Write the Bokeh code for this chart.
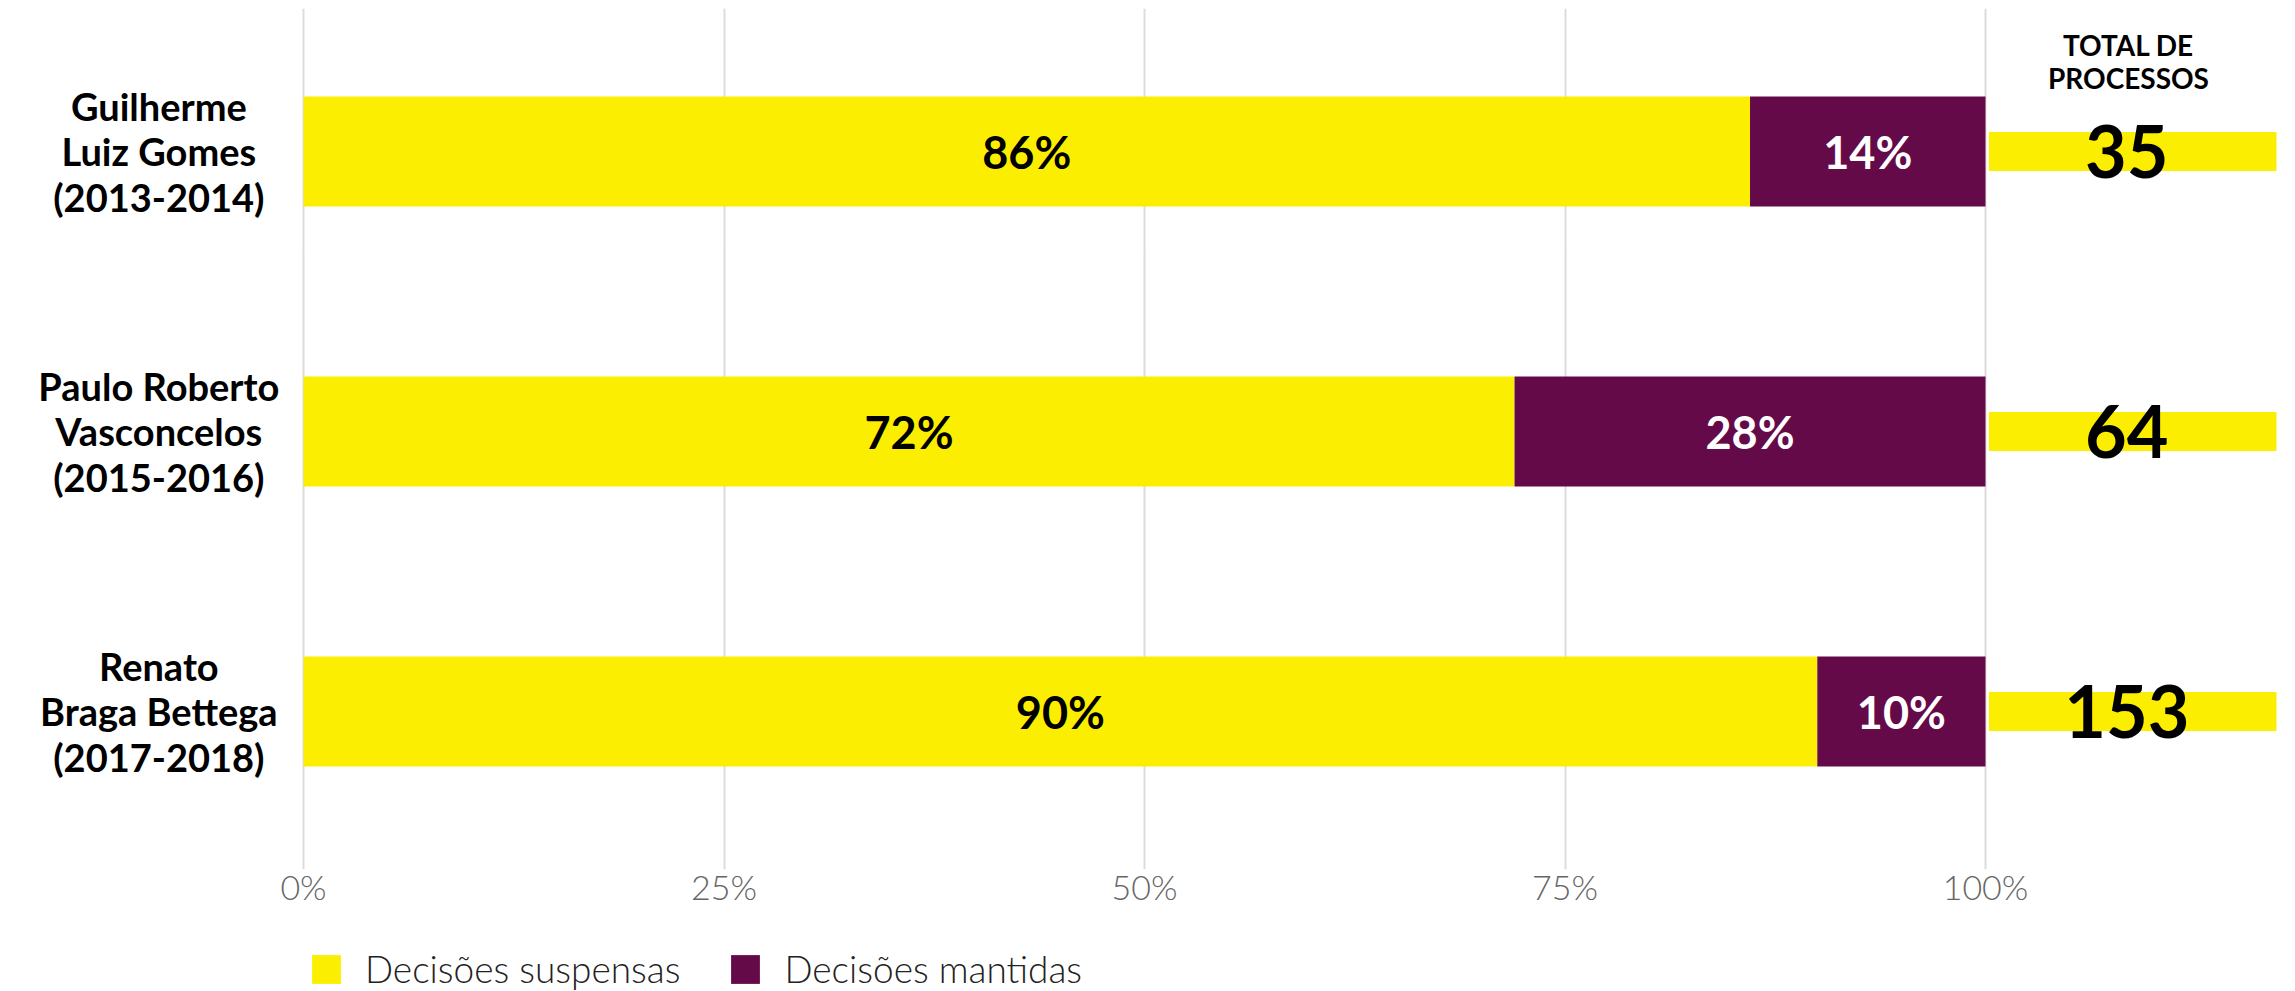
from bokeh.plotting import figure
from bokeh.layouts import column
from bokeh.models import ColumnDataSource, Range1d, FixedTicker, Legend, LegendItem
from bokeh.core.properties import value
from bokeh.embed import file_html
from bokeh.resources import INLINE

# ---- data ----
names = ["Guilherme\nLuiz Gomes\n(2013-2014)",
         "Paulo Roberto\nVasconcelos\n(2015-2016)",
         "Renato\nBraga Bettega\n(2017-2018)"]
suspensas = [86, 72, 90]
mantidas = [14, 28, 10]
totais = [35, 64, 153]
tick_values = [0, 25, 50, 75, 100]
tick_labels = ["0%", "25%", "50%", "75%", "100%"]
legend_labels = ["Decisões suspensas", "Decisões mantidas"]
total_title = "TOTAL DE\nPROCESSOS"

# ---- style ----
YELLOW = "#FCEE00"
PURPLE = "#650A49"
BOLD = "Lato"
LIGHT = "Lato Light"
W = 2295
H_MAIN = 930
H_LEG = 61

n = len(names)
ys = [n - 1 - i for i in range(n)]

src = ColumnDataSource(dict(
    y=ys,
    name=names,
    s=suspensas,
    m_left=suspensas,
    m_right=[a + b for a, b in zip(suspensas, mantidas)],
    s_mid=[v / 2 for v in suspensas],
    m_mid=[a + b / 2 for a, b in zip(suspensas, mantidas)],
    s_lab=[f"{v}%" for v in suspensas],
    m_lab=[f"{v}%" for v in mantidas],
    tot=[str(v) for v in totais],
))

px_per_unit = 16.82
x_start = -303 / px_per_unit
x_end = x_start + W / px_per_unit
y_end = (n - 1) + 143 / 280
y_start = y_end - 861 / 280

p = figure(width=W, height=H_MAIN, output_backend="svg", toolbar_location=None,
           x_range=Range1d(x_start, x_end), y_range=Range1d(y_start, y_end),
           min_border_left=0, min_border_right=0, min_border_top=8, min_border_bottom=61)
p.outline_line_color = None
p.yaxis.visible = False
p.ygrid.visible = False

p.xaxis.ticker = FixedTicker(ticks=tick_values)
p.xaxis.major_label_overrides = {v: l for v, l in zip(tick_values, tick_labels)}
p.xaxis.axis_line_color = None
p.xaxis.major_tick_line_color = None
p.xaxis.minor_tick_line_color = None
p.xaxis.major_label_text_font = LIGHT
p.xaxis.major_label_text_font_size = "34px"
p.xaxis.major_label_text_color = "#666666"
p.xaxis.major_label_standoff = -10
p.xgrid.grid_line_color = "#dcdcdc"
p.xgrid.grid_line_width = 2

p.hbar(y="y", left=0, right="s", height=0.393, source=src, fill_color=YELLOW, line_color=None)
p.hbar(y="y", left="m_left", right="m_right", height=0.393, source=src, fill_color=PURPLE, line_color=None)

# totals bars
p.hbar(y="y", left=100.2, right=117.3, height=0.14, source=src, fill_color=YELLOW, line_color=None)

p.text(x="s_mid", y="y", text="s_lab", source=src, text_font=value(BOLD), text_font_style="bold",
       text_font_size="45px", text_align="center", text_baseline="middle", text_color="black")
p.text(x="m_mid", y="y", text="m_lab", source=src, text_font=value(BOLD), text_font_style="bold",
       text_font_size="45px", text_align="center", text_baseline="middle", text_color="white")
p.text(x=108.4, y="y", text="tot", source=src, text_font=value(BOLD), text_font_style="bold",
       text_font_size="72px", text_align="center", text_baseline="middle", text_color="black")

p.text(x=[108.5], y=[y_end - 53 / 280], text=[total_title], text_font=value(BOLD), text_font_style="bold",
       text_font_size="28px", text_align="center", text_baseline="middle", text_color="black",
       text_line_height=0.98)

p.text(x=-8.6, y="y", text="name", source=src, text_font=value(BOLD), text_font_style="bold",
       text_font_size="38px", text_align="center", text_baseline="middle", text_color="black",
       text_line_height=0.98)

# ---- legend strip ----
p2 = figure(width=W, height=H_LEG, output_backend="svg", toolbar_location=None,
            x_range=Range1d(0, 1), y_range=Range1d(0, 1),
            min_border_left=0, min_border_right=0, min_border_top=0, min_border_bottom=0)
p2.axis.visible = False
p2.grid.visible = False
p2.outline_line_color = None
# legend swatches only: one row kept outside the visible range
swatch = ColumnDataSource(dict(y=[-10], left=[0], right=[1]))
l_s = p2.hbar(y="y", left="left", right="right", height=1, source=swatch, fill_color=YELLOW, line_color=None)
l_m = p2.hbar(y="y", left="left", right="right", height=1, source=swatch, fill_color=PURPLE, line_color=None)

legend = Legend(items=[LegendItem(label=legend_labels[0], renderers=[l_s]),
                       LegendItem(label=legend_labels[1], renderers=[l_m])],
                orientation="horizontal", location=(308, 0),
                glyph_width=36, glyph_height=36, label_standoff=21, spacing=47,
                label_height=36,
                label_text_font=LIGHT, label_text_font_size="37px", label_text_color="#222222",
                border_line_color=None, background_fill_alpha=0, padding=0, margin=0)
p2.add_layout(legend)

open("out.html", "w").write(file_html(column(p, p2, spacing=0), INLINE))
